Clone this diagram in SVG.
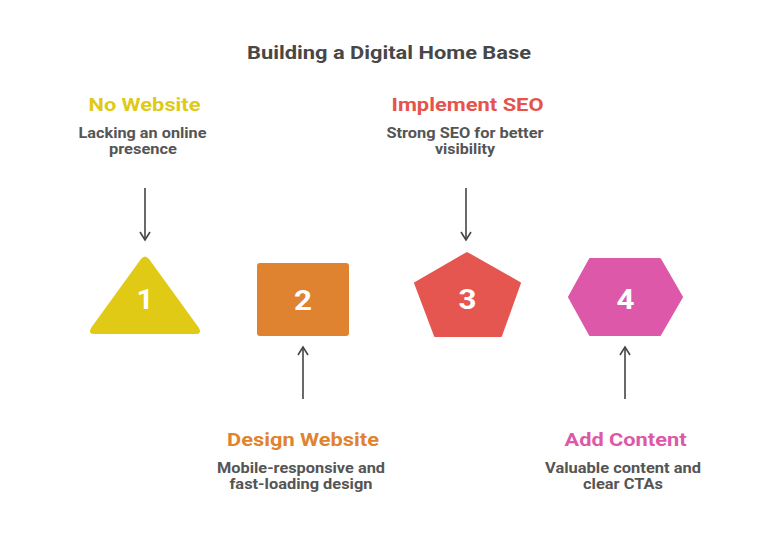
<svg xmlns="http://www.w3.org/2000/svg" width="777" height="556" viewBox="0 0 777 556">
<defs>
<style>
text{font-family:Roboto,"Liberation Sans",Arial,sans-serif;font-weight:700;text-anchor:middle}
.title{font-size:18px;fill:#474747}
.head{font-size:18px}
.desc{font-size:14px;fill:#555555}
.num{font-size:27px;fill:#ffffff}
.conn{stroke:#444444;stroke-width:1.6;fill:none}
</style>
<marker id="ah" viewBox="0 0 12 12" refX="10" refY="6" markerWidth="12" markerHeight="12" markerUnits="userSpaceOnUse" orient="auto">
<path d="M2,1 L10,6 L2,11" fill="none" stroke="#444444" stroke-width="1.6"/>
</marker>
</defs>
<rect width="777" height="556" fill="#ffffff"/>
<text class="title" x="389" y="59" textLength="284" lengthAdjust="spacingAndGlyphs">Building a Digital Home Base</text>
<g id="connectors">
<line class="conn" x1="145" y1="188" x2="145" y2="240" marker-end="url(#ah)"/>
<line class="conn" x1="303" y1="399" x2="303" y2="347" marker-end="url(#ah)"/>
<line class="conn" x1="466" y1="188" x2="466" y2="240" marker-end="url(#ah)"/>
<line class="conn" x1="625" y1="399" x2="625" y2="347" marker-end="url(#ah)"/>
</g>
<g id="node1">
<path d="M141,259 Q145,254 149,259 L199,328 Q202,334 196,334 L94,334 Q88,334 91,328 Z" fill="#e0ca16"/>
<text class="num" x="145" y="309" textLength="17" lengthAdjust="spacingAndGlyphs">1</text>
<text class="head" x="144.5" y="111" fill="#e0ca16" textLength="112" lengthAdjust="spacingAndGlyphs">No Website</text>
<text class="desc" x="142.5" y="138" textLength="128" lengthAdjust="spacingAndGlyphs">Lacking an online</text>
<text class="desc" x="143" y="154" textLength="68" lengthAdjust="spacingAndGlyphs">presence</text>
</g>
<g id="node2">
<rect x="257" y="263" width="92" height="73" rx="3" fill="#e08330"/>
<text class="num" x="303" y="310" textLength="18" lengthAdjust="spacingAndGlyphs">2</text>
<text class="head" x="303" y="446" fill="#e08330" textLength="152" lengthAdjust="spacingAndGlyphs">Design Website</text>
<text class="desc" x="301" y="473" textLength="168" lengthAdjust="spacingAndGlyphs">Mobile-responsive and</text>
<text class="desc" x="301" y="489" textLength="143" lengthAdjust="spacingAndGlyphs">fast-loading design</text>
</g>
<g id="node3">
<path d="M467,253 L520,283 L501,336 L435,336 L415,283 Z" fill="#e55650" stroke="#e55650" stroke-width="2" stroke-linejoin="round"/>
<text class="num" x="467.5" y="309" textLength="18" lengthAdjust="spacingAndGlyphs">3</text>
<text class="head" x="467.5" y="111" fill="#e5534b" textLength="152" lengthAdjust="spacingAndGlyphs">Implement SEO</text>
<text class="desc" x="465" y="138" textLength="157" lengthAdjust="spacingAndGlyphs">Strong SEO for better</text>
<text class="desc" x="465" y="154" textLength="60" lengthAdjust="spacingAndGlyphs">visibility</text>
</g>
<g id="node4">
<path d="M590,259 L660,259 L682,297 L660,335 L590,335 L569,297 Z" fill="#dd58a8" stroke="#dd58a8" stroke-width="2" stroke-linejoin="round"/>
<text class="num" x="625.5" y="309" textLength="18" lengthAdjust="spacingAndGlyphs">4</text>
<text class="head" x="625.5" y="446" fill="#dd58a8" textLength="122" lengthAdjust="spacingAndGlyphs">Add Content</text>
<text class="desc" x="623" y="473" textLength="156" lengthAdjust="spacingAndGlyphs">Valuable content and</text>
<text class="desc" x="623" y="489" textLength="80" lengthAdjust="spacingAndGlyphs">clear CTAs</text>
</g>
</svg>
